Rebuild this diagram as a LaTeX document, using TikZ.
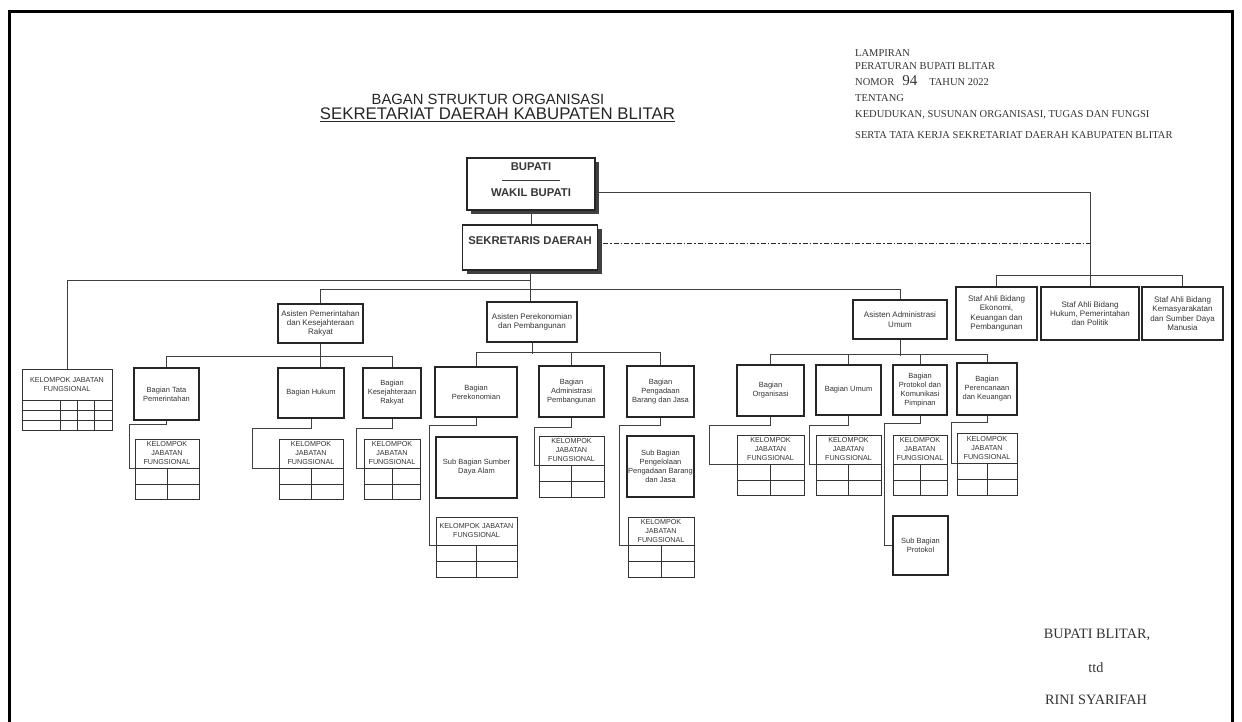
\documentclass[tikz,border=0pt]{standalone}
\usepackage{fontspec}
\setmainfont{Liberation Sans}
\newfontfamily\docserif{Liberation Serif}
\usetikzlibrary{positioning,shadows}

\tikzset{
  wire/.style={draw=black!75, line width=0.8pt},
  dashdot/.style={draw=black!85, line width=1.3pt, dash pattern=on 5pt off 2pt on 1.5pt off 2pt},
  topbox/.style={draw=black!85, line width=1.3pt, fill=white, align=center,
    font=\bfseries\fontsize{11.3}{12.5}\selectfont, text=black!78,
    drop shadow={shadow xshift=4pt, shadow yshift=-4pt, fill=black!75, opacity=1}},
  asbox/.style={draw=black!85, line width=1.1pt, align=center, inner sep=1pt,
    font=\fontsize{8}{9.3}\selectfont, text=black!80},
  bgbox/.style={draw=black!85, line width=1.5pt, align=center, inner sep=1pt,
    font=\fontsize{7.5}{9}\selectfont, text=black!80},
  kjf/.style={draw=black!80, line width=0.9pt, align=center, inner sep=0pt,
    font=\fontsize{7.2}{9}\selectfont, text=black!80},
  kjfcells/.style={draw=black!80, line width=0.9pt, inner sep=0pt},
  cellline/.style={draw=black!80, line width=0.9pt},
  lampiran/.style={anchor=west, inner sep=0pt, font=\docserif\fontsize{10.5}{12}\selectfont, text=black!80},
  ttdtext/.style={inner sep=0pt, font=\docserif\fontsize{14.3}{16}\selectfont, text=black!80},
}

\begin{document}
\begin{tikzpicture}[x=1pt, y=-1pt]
\useasboundingbox (0,0) rectangle (1242,722);
\draw[line width=3pt] (9,722) -- (9,12) -- (1232,12) -- (1232,722);

% judul
\node (judul1) [text=black!85] at (488,99) {\fontsize{14.8}{16}\selectfont BAGAN STRUKTUR ORGANISASI};
\node (judul2) [text=black!85] at (497.5,115) {\fontsize{16.8}{18}\selectfont\underline{SEKRETARIAT DAERAH KABUPATEN BLITAR}};

% lampiran
\node (lamp1) [lampiran] at (855,53) {LAMPIRAN};
\node (lamp2) [lampiran] at (855,66) {PERATURAN BUPATI BLITAR};
\node (lamp3) [lampiran] at (855,81) {NOMOR\hspace{8pt}{\fontsize{15}{15}\selectfont 94}\hspace{12pt}TAHUN 2022};
\node (lamp4) [lampiran] at (855,98) {TENTANG};
\node (lamp5) [lampiran] at (855,115) {KEDUDUKAN, SUSUNAN ORGANISASI, TUGAS DAN FUNGSI};
\node (lamp6) [lampiran] at (855,135) {SERTA TATA KERJA SEKRETARIAT DAERAH KABUPATEN BLITAR};

% pimpinan
\node (bupati) [topbox, minimum width=128pt, minimum height=52pt] at (531,184)
  {BUPATI\\[-2pt]\rule{58pt}{0.8pt}\\[3pt]WAKIL BUPATI\\[-7pt]\strut};
\node (sekda) [topbox, minimum width=135pt, minimum height=45pt] at (530,247.5)
  {SEKRETARIS DAERAH\\[-2pt]\strut};

% asisten
\node (aspem) [asbox, minimum width=85pt, minimum height=39pt] at (320.5,323.5) {Asisten Pemerintahan\\dan Kesejahteraan\\Rakyat};
\node (asek) [asbox, minimum width=90pt, minimum height=40pt] at (532,322) {Asisten Perekonomian\\dan Pembangunan};
\node (asadm) [asbox, minimum width=94pt, minimum height=39pt] at (900,319.5) {Asisten Administrasi\\Umum};

% staf ahli
\node (sa1) [asbox, minimum width=81pt, minimum height=53pt] at (996.5,313.5) {Staf Ahli Bidang\\Ekonomi,\\Keuangan dan\\Pembangunan};
\node (sa2) [asbox, minimum width=98pt, minimum height=53pt] at (1090,313.5) {Staf Ahli Bidang\\Hukum, Pemerintahan\\dan Politik};
\node (sa3) [asbox, minimum width=81pt, minimum height=53pt] at (1182.5,313.5) {Staf Ahli Bidang\\Kemasyarakatan\\dan Sumber Daya\\Manusia};

% bagian
\node (kjf0) [kjf, minimum width=90pt, minimum height=31pt] at (67,384.5) {KELOMPOK JABATAN\\FUNGSIONAL};
\node (kjf0c) [kjfcells, minimum width=90pt, minimum height=30pt, below=0pt of kjf0] {};
\node (tapem) [bgbox, minimum width=65pt, minimum height=52pt] at (166.5,394) {Bagian Tata\\Pemerintahan};
\node (hukum) [bgbox, minimum width=66pt, minimum height=50pt] at (311,393) {Bagian Hukum};
\node (kesra) [bgbox, minimum width=58pt, minimum height=50pt] at (392,393) {Bagian\\Kesejahteraan\\Rakyat};
\node (perek) [bgbox, minimum width=82pt, minimum height=50pt] at (476,392) {Bagian\\Perekonomian};
\node (adpem) [bgbox, minimum width=65pt, minimum height=51pt] at (571.5,391.5) {Bagian\\Administrasi\\Pembangunan};
\node (pbj) [bgbox, minimum width=67pt, minimum height=51pt] at (660.5,391.5) {Bagian\\Pengadaan\\Barang dan Jasa};
\node (org) [bgbox, minimum width=67pt, minimum height=51pt] at (770.5,390.5) {Bagian\\Organisasi};
\node (umum) [bgbox, minimum width=65pt, minimum height=50pt] at (848.5,390) {Bagian Umum};
\node (prot) [bgbox, minimum width=54pt, minimum height=50pt] at (920,390) {Bagian\\Protokol dan\\Komunikasi\\Pimpinan};
\node (ren) [bgbox, minimum width=60pt, minimum height=52pt] at (987,389) {Bagian\\Perencanaan\\dan Keuangan};

% sub bagian dan kelompok jabatan fungsional
\node (kjftapem) [kjf, minimum width=64pt, minimum height=29pt] at (167,453.5) {KELOMPOK\\JABATAN\\FUNGSIONAL};
\node (kjftapemc) [kjfcells, minimum width=64pt, minimum height=31pt, below=0pt of kjftapem] {};
\node (kjfhukum) [kjf, minimum width=64pt, minimum height=29pt] at (311,453.5) {KELOMPOK\\JABATAN\\FUNGSIONAL};
\node (kjfhukumc) [kjfcells, minimum width=64pt, minimum height=31pt, below=0pt of kjfhukum] {};
\node (kjfkesra) [kjf, minimum width=56pt, minimum height=29pt] at (392,453.5) {KELOMPOK\\JABATAN\\FUNGSIONAL};
\node (kjfkesrac) [kjfcells, minimum width=56pt, minimum height=31pt, below=0pt of kjfkesra] {};
\node (sda) [bgbox, minimum width=81pt, minimum height=61pt] at (476.5,467.5) {Sub Bagian Sumber\\Daya Alam};
\node (kjfperek) [kjf, minimum width=81pt, minimum height=28pt] at (476.5,531) {KELOMPOK JABATAN\\FUNGSIONAL};
\node (kjfperekc) [kjfcells, minimum width=81pt, minimum height=32pt, below=0pt of kjfperek] {};
\node (kjfadpem) [kjf, minimum width=65pt, minimum height=29pt] at (571.5,450.5) {KELOMPOK\\JABATAN\\FUNGSIONAL};
\node (kjfadpemc) [kjfcells, minimum width=65pt, minimum height=32pt, below=0pt of kjfadpem] {};
\node (subpbj) [bgbox, minimum width=67pt, minimum height=61pt] at (660.5,466.5) {Sub Bagian\\Pengelolaan\\Pengadaan Barang\\dan Jasa};
\node (kjfpbj) [kjf, minimum width=66pt, minimum height=28pt] at (661,531) {KELOMPOK\\JABATAN\\FUNGSIONAL};
\node (kjfpbjc) [kjfcells, minimum width=66pt, minimum height=32pt, below=0pt of kjfpbj] {};
\node (kjforg) [kjf, minimum width=67pt, minimum height=29pt] at (770.5,449.5) {KELOMPOK\\JABATAN\\FUNGSIONAL};
\node (kjforgc) [kjfcells, minimum width=67pt, minimum height=31pt, below=0pt of kjforg] {};
\node (kjfumum) [kjf, minimum width=65pt, minimum height=29pt] at (848.5,449.5) {KELOMPOK\\JABATAN\\FUNGSIONAL};
\node (kjfumumc) [kjfcells, minimum width=65pt, minimum height=31pt, below=0pt of kjfumum] {};
\node (kjfprot) [kjf, minimum width=54pt, minimum height=29pt] at (920,449.5) {KELOMPOK\\JABATAN\\FUNGSIONAL};
\node (kjfprotc) [kjfcells, minimum width=54pt, minimum height=31pt, below=0pt of kjfprot] {};
\node (subprot) [bgbox, minimum width=55pt, minimum height=59pt] at (920.5,545.5) {Sub Bagian\\Protokol};
\node (kjfren) [kjf, minimum width=60pt, minimum height=30pt] at (987,448) {KELOMPOK\\JABATAN\\FUNGSIONAL};
\node (kjfrenc) [kjfcells, minimum width=60pt, minimum height=32pt, below=0pt of kjfren] {};

% kolom tabel
\draw[cellline] ([xshift=39pt]kjf0c.north west) -- ([xshift=39pt]kjf0c.south west)
  ([xshift=56pt]kjf0c.north west) -- ([xshift=56pt]kjf0c.south west)
  ([xshift=73pt]kjf0c.north west) -- ([xshift=73pt]kjf0c.south west)
  ([yshift=-10pt]kjf0c.north west) -- ([yshift=-10pt]kjf0c.north east)
  ([yshift=-20pt]kjf0c.north west) -- ([yshift=-20pt]kjf0c.north east);
\draw[cellline] (kjftapemc.north) -- (kjftapemc.south) (kjftapemc.west) -- (kjftapemc.east);
\draw[cellline] (kjfhukumc.north) -- (kjfhukumc.south) (kjfhukumc.west) -- (kjfhukumc.east);
\draw[cellline] (kjfkesrac.north) -- (kjfkesrac.south) (kjfkesrac.west) -- (kjfkesrac.east);
\draw[cellline] (kjfperekc.north) -- (kjfperekc.south) (kjfperekc.west) -- (kjfperekc.east);
\draw[cellline] (kjfadpemc.north) -- (kjfadpemc.south) (kjfadpemc.west) -- (kjfadpemc.east);
\draw[cellline] (kjfpbjc.north) -- (kjfpbjc.south) (kjfpbjc.west) -- (kjfpbjc.east);
\draw[cellline] (kjforgc.north) -- (kjforgc.south) (kjforgc.west) -- (kjforgc.east);
\draw[cellline] (kjfumumc.north) -- (kjfumumc.south) (kjfumumc.west) -- (kjfumumc.east);
\draw[cellline] (kjfprotc.north) -- (kjfprotc.south) (kjfprotc.west) -- (kjfprotc.east);
\draw[cellline] (kjfrenc.north) -- (kjfrenc.south) (kjfrenc.west) -- (kjfrenc.east);

% garis komando
\draw[wire] (bupati.south) -- (bupati.south |- sekda.north);
\draw[wire] (sekda.south) -- (sekda.south |- asek.north);
\draw[wire] (sekda.south) ++(0,10) -| (kjf0.north);
\draw[wire] (aspem.north) -- ++(0,-14) -| (asadm.north);
\coordinate (wakil) at ([yshift=-8pt]bupati.east);
\draw[wire] (wakil) -| (sa2.north);
\draw[wire] (sa1.north) -- ++(0,-11) -| (sa3.north);
\coordinate (koord) at ([xshift=5pt,yshift=4pt]sekda.east);
\draw[dashdot] (koord) -- (koord -| sa2.north);

\draw[wire] (tapem.north) -- ++(0,-11) -| (kesra.north);
\draw[wire] (aspem.south) -- (aspem.south |- hukum.north);
\draw[wire] (perek.north) -- ++(0,-14) -| (pbj.north);
\draw[wire] (asek.south) -- ++(0,11);
\draw[wire] (adpem.north) -- ++(0,-13);
\draw[wire] (org.north) -- ++(0,-10) -| (ren.north);
\draw[wire] (asadm.south) -- ++(0,16);
\draw[wire] (umum.north) -- ++(0,-10);
\draw[wire] (prot.north) -- ++(0,-10);

\draw[wire] (tapem.south) -- ++(0,4) -| ([xshift=-5pt]kjftapem.south west) -- (kjftapem.south west);
\draw[wire] (hukum.south) -- ++(0,10) -| ([xshift=-26pt]kjfhukum.south west) -- (kjfhukum.south west);
\draw[wire] (kesra.south) -- ++(0,10) -| ([xshift=-7pt]kjfkesra.south west) -- (kjfkesra.south west);
\draw[wire] (perek.south) -- ++(0,8) -| ([xshift=-6pt]kjfperek.south west) -- (kjfperek.south west);
\draw[wire] (adpem.south) -- ++(0,10) -| ([xshift=-4pt]kjfadpem.south west) -- (kjfadpem.south west);
\draw[wire] (pbj.south) -- ++(0,8) -| ([xshift=-8pt]kjfpbj.south west) -- (kjfpbj.south west);
\draw[wire] (org.south) -- ++(0,9) -| ([xshift=-27pt]kjforg.south west) -- (kjforg.south west);
\draw[wire] (umum.south) -- ++(0,10) -| ([xshift=-6pt]kjfumum.south west) -- (kjfumum.south west);
\draw[wire] (prot.south) -- ++(0,8) -| ([xshift=-8pt]subprot.west) -- (subprot.west);
\draw[wire] (ren.south) -- ++(0,7) -| ([xshift=-5pt]kjfren.south west) -- (kjfren.south west);

% pengesahan
\node (jabatan) [ttdtext] at (1097,635) {BUPATI BLITAR,};
\node (ttd) [ttdtext] at (1096,668) {ttd};
\node (nama) [ttdtext] at (1096,700) {RINI SYARIFAH};

\end{tikzpicture}
\end{document}
